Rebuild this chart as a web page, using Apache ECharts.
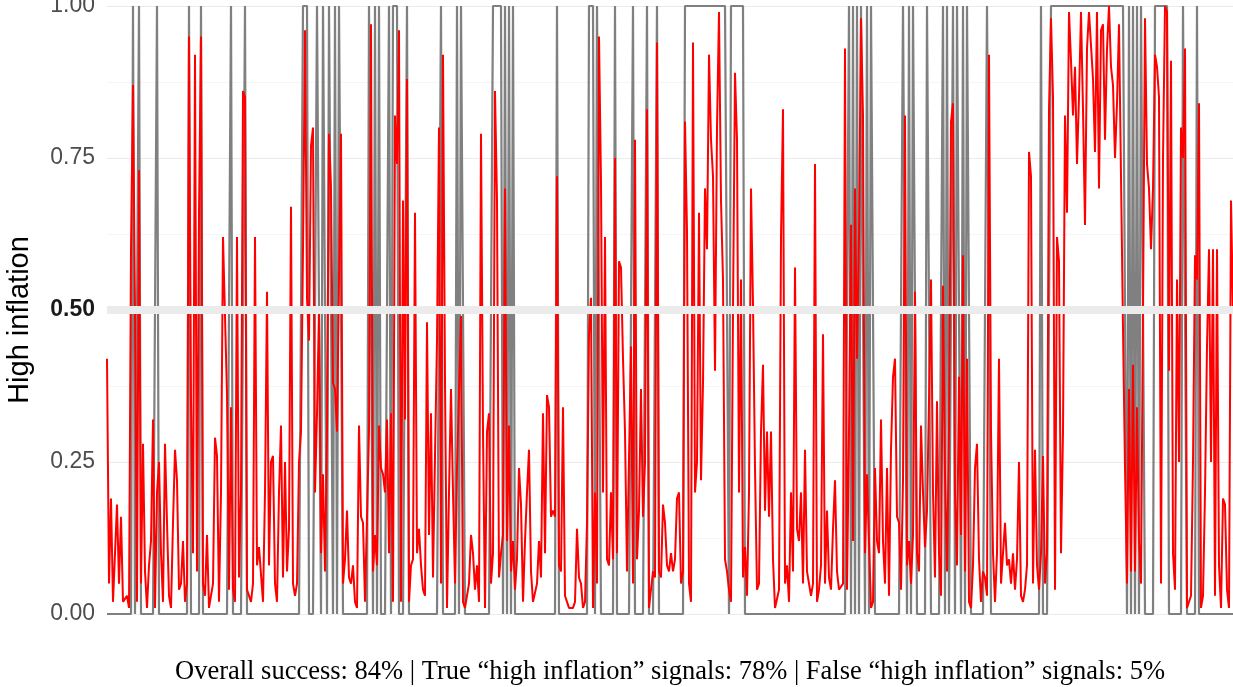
<!DOCTYPE html>
<html>
<head>
<meta charset="utf-8">
<script src="https://cdn.jsdelivr.net/npm/echarts@6/dist/echarts.min.js"></script>
<style>
  html, body { margin: 0; padding: 0; background: #fff; }
  #chart { width: 1233px; height: 687px; }
</style>
</head>
<body>
<div id="chart"></div>
<script>
// model probability of a "high inflation" regime, one value per period
const probPart1 = [0.42,0.05,0.19,0.02,0.1,0.18,0.05,0.16,0.02,0.02, 0.03,0.01,0.6,0.87,0.5,0.02,0.73,0.05,0.28,0.07,
  0.01,0.08,0.12,0.32,0.01,0.2,0.25,0.1,0.02,0.28, 0.15,0.03,0.01,0.15,0.27,0.22,0.04,0.05,0.12,0.02,
  0.05,0.95,0.35,0.1,0.92,0.07,0.66]
const probPart2 = [0.95,0.05,0.03,0.13,0.01,0.01,0.05,0.29,0.26,0.02, 0.2,0.62,0.49,0.36,0.04,0.34,0.04,0.02,0.62,0.06,
  0.2,0.86,0.85,0.04,0.04,0.02,0.05,0.62,0.08,0.11, 0.11,0.02,0.2,0.53,0.08,0.25,0.26,0.05,0.02,0.2,
  0.31,0.06,0.25,0.07,0.14,0.67,0.05,0.03]
const probPart3 = [0.05,0.25,0.3,0.6,0.96,0.52,0.45,0.77,0.8,0.2, 0.33,0.5,0.1,0.23,0.07,0.3,0.79,0.7,0.38,0.37,
  0.3,0.55,0.79,0.05,0.09,0.17,0.06,0.05,0.08,0.02, 0.01,0.31,0.16,0.15,0.02,0.02,0.3,0.97,0.07,0.13,
  0.08,0.31,0.24,0.23,0.2,0.32,0.1]
const probPart4 = [0.33,0.02,0.82,0.74,0.96,0.02,0.68,0.32,0.88,0.02, 0.08,0.09,0.66,0.1,0.14,0.08,0.04,0.03,0.48,0.13,
  0.33,0.06,0.26,0.45,0.8,0.05,0.92,0.38,0.01,0.2, 0.37,0.2,0.05,0.24,0.24,0.49,0.02,0.01,0.01,0.05,
  0.13,0.1,0.04,0.08,0.02,0.79,0.3,0.01]
const probPart5 = [0.3,0.33,0.05,0.1,0.86,0.68,0.06,0.1,0.13,0.7, 0.12,0.31,0.07,0.12,0.04,0.09,0.24,0.18,0.02,0.12,
  0.2,0.27,0.07,0.02,0.02,0.05,0.12,0.06,0.33,0.1, 0.36,0.34,0.16,0.17,0.16,0.72,0.08,0.07,0.34,0.03,
  0.02,0.01,0.01,0.01,0.02,0.14,0.06]
const probPart6 = [0.05,0.01,0.02,0.15,0.46,0.52,0.01,0.2,0.05,0.95, 0.71,0.2,0.62,0.09,0.08,0.2,0.09,0.75,0.1,0.58,
  0.57,0.42,0.3,0.07,0.07,0.44,0.05,0.78,0.09,0.17, 0.37,0.16,0.25,0.83,0.01,0.01,0.07,0.06,0.94,0.07,
  0.06,0.18,0.15,0.08,0.07,0.1,0.07,0.09]
const probPart7 = [0.19,0.2,0.05,0.07,0.81,0.63,0.05,0.02,0.94,0.2, 0.25,0.66,0.22,0.38,0.7,0.6,0.92,0.78,0.72,0.4,
  0.8,0.99,0.68,0.55,0.09,0.07,0.04,0.02,0.5,0.89, 0.78,0.2,0.55,0.06,0.11,0.03,0.2,0.7,0.51,0.24,
  0.04,0.05,0.3,0.41,0.17,0.3,0.16]
const probPart8 = [0.3,0.09,0.01,0.01,0.04,0.62,0.83,0.05,0.08,0.02, 0.2,0.07,0.57,0.14,0.12,0.2,0.05,0.27,0.07,0.05,
  0.03,0.05,0.74,0.02,0.04,0.08,0.46,0.05,0.17,0.06, 0.04,0.14,0.22,0.07,0.04,0.04,0.05,0.93,0.04,0.3,
  0.64,0.12,0.7,0.42,0.62,0.98,0.82,0.1]
const probPart9 = [0.23,0.12,0.01,0.02,0.24,0.12,0.1,0.32,0.12,0.05, 0.24,0.03,0.27,0.39,0.42,0.16,0.15,0.04,0.22,0.82,
  0.08,0.12,0.05,0.13,0.53,0.1,0.07,0.31,0.2,0.11, 0.17,0.35,0.55,0.2,0.06,0.35,0.1,0.03,0.54,0.23,
  0.07,0.3,0.81,0.84,0.2,0.08,0.39]
const probPart10 = [0.13,0.59,0.07,0.42,0.02,0.01,0.08,0.24,0.28,0.09, 0.02,0.07,0.06,0.03,0.92,0.3,0.1,0.02,0.1,0.42,
  0.05,0.1,0.15,0.08,0.09,0.05,0.1,0.04,0.09,0.25, 0.03,0.02,0.04,0.08,0.76,0.72,0.05,0.27,0.08,0.04,
  0.1,0.26,0.05,0.1,0.83,0.98,0.85,0.04]
const probPart11 = [0.62,0.58,0.1,0.3,0.82,0.66,0.99,0.91,0.82,0.9, 0.74,0.85,0.99,0.83,0.64,0.93,0.99,0.99,0.88,0.76,
  0.99,0.7,0.96,0.97,0.78,0.93,1.0,0.9,0.87,0.75, 0.84,0.97,0.97,0.47,0.24,0.05,0.37,0.07,0.41,0.07,
  0.34,0.12,0.05,0.5,0.98,0.74,0.7]
const probPart12 = [0.6,0.7,0.92,0.9,0.85,0.05,0.75,1.0,0.99,0.4, 0.91,0.1,0.04,0.55,0.25,0.8,0.75,0.93,0.01,0.01,
  0.03,0.25,0.59,0.55,0.84,0.01,0.03,0.2,0.44,0.6, 0.25,0.6,0.03,0.6,0.08,0.01,0.19,0.18,0.04,0.01,
  0.68,0.5]

// periods actually in "high inflation" (first and last period of each run, inclusive)
const highRuns = [
  [13,13],[16,16],[25,25],[41,41],[47,47],[62,62],[69,69],
  [98,100],[105,106],[108,109],[111,112],[114,114],[116,117],[131,132],[134,134],[136,136],
  [141,141],[143,145],[150,150],[167,167],[175,175],[177,178],
  [193,197],[199,199],[201,201],[203,203],[225,225],
  [241,243],[245,246],[254,254],[263,263],[270,270],[275,275],
  [289,310],[312,318],
  [371,371],[373,373],[375,375],[377,378],[380,380],[382,383],
  [398,399],[401,401],[403,404],[410,411],[418,418],[420,420],[423,423],[425,426],
  [428,428],[430,431],[440,441],[467,467],
  [472,509],[511,511],[513,513],[515,515],[517,518],[524,530],[538,539],[545,545]
]

const yTicks = [0, 0.25, 0.5, 0.75, 1]
const yTitle = 'High inflation'
const captionText = 'Overall success: 84% | True \u201chigh inflation\u201d signals: 78% | False \u201chigh inflation\u201d signals: 5%'

const prob = [].concat(probPart1, probPart2, probPart3, probPart4, probPart5, probPart6,
  probPart7, probPart8, probPart9, probPart10, probPart11, probPart12)

const actual = prob.map((_, i) => highRuns.some(r => i >= r[0] && i <= r[1]) ? 1 : 0)

const probData = prob.map((v, i) => [i, v])
const actualData = actual.map((v, i) => [i, v])

let myChart = echarts.init(document.getElementById('chart'))
myChart.setOption({
  animation: false,
  backgroundColor: '#fff',
  grid: { left: 107, right: 0, top: 6, bottom: 73, outerBoundsMode: 'none' },
  xAxis: {
    type: 'value',
    min: 0,
    max: prob.length - 1,
    show: false
  },
  yAxis: {
    type: 'value',
    min: yTicks[0],
    max: yTicks[yTicks.length - 1],
    interval: 0.25,
    axisLine: { show: false },
    axisTick: { show: false },
    axisLabel: {
      margin: 12,
      fontFamily: 'Liberation Sans',
      fontSize: 23,
      color: '#4D4D4D',
      formatter: v => v === 0.5 ? '{b|0.50}' : v.toFixed(2),
      rich: { b: { fontFamily: 'Liberation Sans', fontSize: 23, fontWeight: 'bold', color: '#1A1A1A' } }
    },
    splitLine: { lineStyle: { color: '#EBEBEB', width: 1.1 } },
    minorTick: { show: false, splitNumber: 2 },
    minorSplitLine: { show: true, lineStyle: { color: '#F2F2F2', width: 0.7 } }
  },
  series: [
    {
      name: 'Actual',
      type: 'line',
      data: actualData,
      showSymbol: false,
      lineStyle: { color: '#808080', width: 2.2 },
      z: 2
    },
    {
      name: 'Probability',
      type: 'line',
      data: probData,
      showSymbol: false,
      lineStyle: { color: '#FF0000', width: 2 },
      z: 3
    },
    {
      // thick reference line at 0.5, drawn over the lines
      name: 'Threshold',
      type: 'line',
      data: [],
      z: 5,
      markLine: {
        silent: true,
        symbol: 'none',
        label: { show: false },
        lineStyle: { color: '#EBEBEB', width: 8, type: 'solid' },
        data: [{ yAxis: 0.5 }]
      }
    }
  ],
  graphic: [
    {
      type: 'text',
      x: 20,
      y: 320,
      rotation: Math.PI / 2,
      style: {
        text: yTitle,
        fontFamily: 'Liberation Sans',
        fontSize: 29,
        fill: '#000',
        align: 'center',
        verticalAlign: 'middle'
      }
    },
    {
      type: 'text',
      x: 670,
      y: 672,
      style: {
        text: captionText,
        fontFamily: 'Liberation Serif',
        fontSize: 26.5,
        fill: '#000',
        align: 'center',
        verticalAlign: 'middle'
      }
    }
  ]
})
</script>
</body>
</html>
